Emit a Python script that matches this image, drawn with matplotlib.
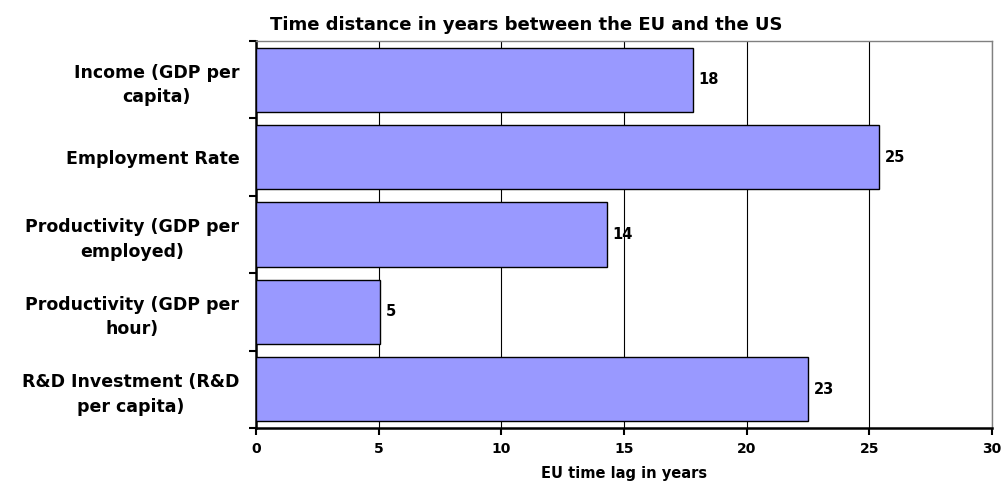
"""Horizontal bar chart: EU time lag behind the US."""

import matplotlib
matplotlib.use("Agg")
import matplotlib.pyplot as plt
import numpy as np

categories = [
    "Income (GDP per\ncapita)",
    "Employment Rate",
    "Productivity (GDP per\nemployed)",
    "Productivity (GDP per\nhour)",
    "R&D Investment (R&D\nper capita)",
]
lag_years = [17.8, 25.4, 14.3, 5.05, 22.5]
lag_labels = ["18", "25", "14", "5", "23"]
x_ticks = [0, 5, 10, 15, 20, 25, 30]

plt.rcParams["font.family"] = ["DejaVu Sans"]
plt.rcParams["font.weight"] = "bold"

fig = plt.figure(figsize=(10.02, 4.82), dpi=100)
ax = fig.add_axes([0.2555, 0.112, 0.7345, 0.803])

pos = np.arange(len(categories))
ax.barh(pos, lag_years, height=0.83, color="#9999FF", edgecolor="black",
        linewidth=1.0, zorder=3)

for y, v, lab in zip(pos, lag_years, lag_labels):
    ax.annotate(lab, (v, y), xytext=(4, 0), textcoords="offset points",
                ha="left", va="center", fontsize=10.5, fontweight="bold")

ax.set_xlim(0, 30)
ax.set_ylim(len(categories) - 0.5, -0.5)

# x axis
ax.set_xticks(x_ticks)
ax.set_xticklabels([str(t) for t in x_ticks], fontsize=10, fontweight="bold")
ax.tick_params(axis="x", direction="out", length=5, width=1.5, pad=5)
ax.xaxis.grid(True, color="black", linewidth=0.8, zorder=0)
ax.set_axisbelow(True)
ax.set_xlabel("EU time lag in years", fontsize=10.5, fontweight="bold",
              labelpad=7)

# y axis: ticks at category boundaries, labels at centres
ax.set_yticks(np.arange(len(categories) + 1) - 0.5)
ax.set_yticklabels([])
ax.tick_params(axis="y", which="major", direction="out", length=5, width=1.5)
ax.set_yticks(pos, minor=True)
ax.set_yticklabels(categories, minor=True, fontsize=12.5, fontweight="bold",
                   multialignment="center", linespacing=1.45)
ax.tick_params(axis="y", which="minor", length=0, pad=12)

for side in ("left", "bottom"):
    ax.spines[side].set_linewidth(1.8)
    ax.spines[side].set_color("black")
for side in ("top", "right"):
    ax.spines[side].set_linewidth(1.0)
    ax.spines[side].set_color("#808080")

fig.text(526 / 1002, 1 - 25 / 482, "Time distance in years between the EU and the US",
         ha="center", va="center", fontsize=13, fontweight="bold")

fig.savefig("out.png", dpi=100)
plt.close(fig)
